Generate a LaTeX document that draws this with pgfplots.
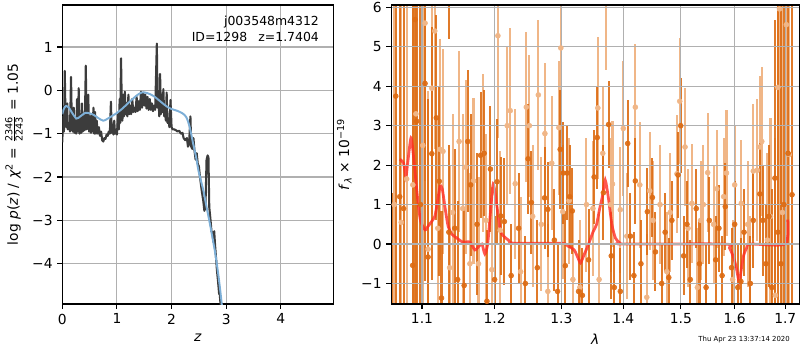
\documentclass[border=0pt]{standalone}
\usepackage{pgfplots}
\usepackage{pgfplotstable}
\pgfplotsset{compat=1.18}
\usepackage{fontspec}
\setmainfont{DejaVu Sans}[ItalicFont={DejaVu Sans Oblique},BoldFont={DejaVu Sans Bold}]
\definecolor{dkline}{RGB}{60,60,60}
\definecolor{bluel}{RGB}{125,175,215}
\definecolor{dor}{RGB}{221,107,18}
\definecolor{lor}{RGB}{240,182,135}
\definecolor{gridc}{RGB}{176,176,176}
\definecolor{redl}{RGB}{255,45,35}
\pgfplotstableread{
l f e
1.064 1.0 9
1.073 0.55 9
1.080 1.65 8
1.088 1.5 8
1.092 3.3 7
1.101 2.5 5
1.104 5.6 4
1.108 -0.13 4
1.113 3.95 3.2
1.117 5.4 3.0
1.121 0.4 2.8
1.124 2.4 2.8
1.128 2.35 2.6
1.137 -0.6 2.6
1.141 0.8 2.5
1.150 2.6 2.3
1.155 0.9 2.4
1.159 1.95 2.2
1.165 -0.5 2.3
1.170 1.6 2.1
1.177 -0.5 2.2
1.184 2.3 2.0
1.188 0.6 2.2
1.196 -0.65 2.1
1.2047 5.28 2.6
1.208 0.35 2.0
1.2182 3.0 2.0
1.2226 3.38 2.1
1.230 1.53 1.9
1.238 -0.7 1.9
1.2464 3.47 1.9
1.251 3.0 1.8
1.256 0.7 1.8
1.2645 3.78 1.9
1.269 0.5 1.7
1.2745 2.8 1.8
1.279 -1.2 1.7
1.285 2.05 1.7
1.296 2.95 1.7
1.299 4.97 2.4
1.302 0.82 1.7
1.312 1.1 1.6
1.318 -0.9 1.7
1.329 -1.1 1.7
1.3396 1.0 1.7
1.350 0.9 1.7
1.358 3.45 1.8
1.360 -0.9 1.7
1.366 2.3 1.7
1.372 6.9 2.5
1.379 1.0 1.7
1.382 1.52 1.6
1.395 0.87 1.6
1.400 2.93 1.7
1.406 0.2 1.6
1.4204 3.47 1.6
1.428 1.5 1.6
1.440 -1.35 1.6
1.445 1.35 1.5
1.451 0.6 1.5
1.463 1.0 1.5
1.475 -0.7 1.5
1.481 0.8 1.5
1.493 1.78 1.5
1.498 3.62 1.6
1.5075 2.46 1.5
1.513 0.4 1.5
1.520 1.03 1.5
1.530 -1.1 1.5
1.536 0.6 1.5
1.541 1.0 1.5
1.549 1.81 1.5
1.560 0.5 1.5
1.566 1.4 1.5
1.579 1.2 1.5
1.5844 1.8 1.6
1.596 -0.9 1.5
1.600 1.5 1.5
1.6127 1.03 1.6
1.625 0.5 1.6
1.630 -1.0 1.7
1.636 1.85 1.7
1.644 1.87 1.8
1.649 2.46 1.8
1.6527 2.6 1.9
1.664 0.1 2.2
1.670 0.7 2.5
1.680 -1.3 4
1.685 3.97 5
1.6881 5.96 6
1.694 0.8 7
1.7021 5.56 8
1.708 2.27 8
}\lighttab
\pgfplotstableread{
l f e
1.061 -2.0 3.3
1.066 3.75 9
1.071 1.2 9
1.076 0.9 9
1.0878 -0.54 8
1.091 5.69 8
1.093 3.11 7
1.098 1.0 6
1.104 4.07 5
1.108 -0.33 4
1.113 2.29 3.2
1.119 3.2 2.6
1.123 1.59 2.4
1.126 -1.37 2.2
1.1365 7.0 1.8
1.136 0.3 2.2
1.144 0.4 2.0
1.148 -0.9 2.0
1.157 -1.05 2.0
1.162 2.6 1.8
1.166 1.5 1.8
1.175 0.5 1.8
1.180 2.25 1.6
1.185 2.3 1.6
1.189 -1.45 1.8
1.194 1.9 1.6
1.200 -0.9 1.6
1.2035 1.58 1.6
1.209 0.71 1.5
1.214 0.57 1.6
1.224 -0.8 1.3
1.235 0.4 1.4
1.245 -1.0 1.2
1.249 2.16 1.4
1.254 1.05 1.3
1.263 -0.6 1.2
1.274 1.17 1.3
1.279 0.88 1.2
1.289 0.1 1.3
1.294 -1.2 1.2
1.298 2.4 1.5
1.303 1.8 1.3
1.306 -0.55 1.4
1.309 1.8 1.2
1.313 1.2 1.3
1.317 0.84 1.1
1.327 -1.2 1.3
1.333 -1.3 1.2
1.343 -0.4 1.3
1.352 1.7 1.2
1.357 2.7 1.3
1.367 1.3 1.2
1.3756 3.03 1.1
1.380 -0.3 1.1
1.385 -1.1 1.1
1.395 -1.2 1.1
1.4074 2.55 1.1
1.412 0.2 1.1
1.418 -0.8 1.1
1.4204 1.6 1.1
1.430 -0.5 1.1
1.441 0.82 1.1
1.4497 1.18 1.0
1.455 -0.2 1.0
1.466 -1.0 1.0
1.472 0.3 1.0
1.4784 -0.85 1.0
1.484 0.6 1.0
1.495 1.75 1.1
1.4997 3.0 1.2
1.505 -0.3 1.0
1.511 0.5 1.1
1.517 -0.9 1.0
1.528 0.9 1.0
1.534 -0.5 1.1
1.546 -1.1 1.1
1.552 0.6 1.1
1.564 -0.4 1.1
1.570 0.4 1.1
1.576 -0.8 1.0
1.582 0.95 1.1
1.594 -0.6 1.0
1.600 0.5 1.1
1.606 -1.1 1.1
1.612 -0.95 1.1
1.618 0.3 1.1
1.630 -1.0 1.2
1.636 0.6 1.2
1.649 1.27 1.3
1.655 0.6 1.4
1.661 -0.5 1.5
1.667 0.7 1.8
1.673 -1.1 2.5
1.679 1.67 4
1.685 0.3 6
1.691 -0.5 8
1.697 1.0 8
1.7058 2.3 8
1.7138 1.25 8
}\darktab
\pgfplotsset{
  myaxis/.style={
    scale only axis, anchor=south west,
    tick align=outside, tick pos=left, major tick length=3.5pt,
    grid=major, grid style={gridc, line width=0.8pt},
    axis line style={line width=0.8pt},
    tick style={black, line width=0.8pt},
    tick label style={font=\fontsize{10}{12}\selectfont},
    label style={font=\fontsize{10}{12}\selectfont},
    clip=true,
  }
}
\begin{document}
\begin{tikzpicture}
% ---------------- left panel ----------------
\begin{axis}[myaxis,
  at={(0.623in,0.46in)}, width=2.71in, height=2.99in,
  xmin=0, xmax=4.96, ymin=-4.93, ymax=1.97,
  xtick={0,1,2,3,4}, xticklabels={0,1,2,3,4},
  ytick={-4,-3,-2,-1,0,1}, yticklabels={−4,−3,−2,−1,0,1},
  xlabel={\textit{z}},
  ylabel={log \textit{p}(\textit{z}) / \textit{χ}\textsuperscript{2} = $\frac{\mbox{\fontsize{7}{7}\selectfont 2346}}{\mbox{\fontsize{7}{7}\selectfont 2243}}$ = 1.05},
]
\addplot[dkline, line width=1.5pt, line join=round] coordinates {
(0.00,-1.20) (0.01,-0.75) (0.02,-0.60) (0.03,-0.95) (0.045,0.45) (0.06,-0.70) (0.075,-0.85) (0.09,-0.30) (0.10,-0.90) (0.12,-0.75) (0.14,-0.95) (0.16,0.31) (0.175,-0.85) (0.19,-0.95) (0.21,-0.40) (0.22,-0.98) (0.24,-0.70) (0.255,-1.00) (0.27,-0.20) (0.285,-0.95) (0.30,0.05) (0.315,-1.00) (0.33,-0.55) (0.345,-0.98) (0.36,-0.30) (0.375,-0.95) (0.39,-0.60) (0.41,-0.92) (0.43,0.57) (0.445,-0.90) (0.46,-0.80) (0.475,-0.10) (0.49,-0.95) (0.51,-0.60) (0.525,-0.98) (0.54,-0.55) (0.555,-0.95) (0.57,-0.40) (0.585,-1.00) (0.60,-0.50) (0.615,-1.00) (0.63,-0.70) (0.65,-1.00) (0.67,-0.85) (0.69,-1.05) (0.71,-0.95) (0.73,-1.15) (0.75,-1.18) (0.77,-1.10) (0.79,-1.12) (0.81,-1.02) (0.83,-1.05) (0.85,-0.95) (0.87,-1.00) (0.89,-0.26) (0.905,-0.98) (0.92,-0.80) (0.935,-1.02) (0.95,-0.70) (0.965,-1.00) (0.98,-0.95) (1.00,-1.02) (1.02,-0.55) (1.035,-0.90) (1.05,-0.20) (1.06,-0.75) (1.075,0.74) (1.09,-0.40) (1.10,-0.70) (1.115,-0.10) (1.13,-0.60) (1.145,-0.03) (1.16,-0.55) (1.175,-0.30) (1.19,-0.60) (1.21,-0.10) (1.225,-0.55) (1.24,-0.35) (1.26,-0.55) (1.28,-0.20) (1.30,-0.50) (1.32,-0.40) (1.34,-0.50) (1.36,-0.15) (1.38,-0.48) (1.40,-0.25) (1.42,-0.45) (1.44,-0.03) (1.46,-0.40) (1.48,-0.05) (1.50,-0.35) (1.52,-0.10) (1.54,-0.42) (1.56,-0.15) (1.58,-0.45) (1.60,-0.20) (1.62,-0.45) (1.64,-0.30) (1.66,-0.48) (1.68,-0.35) (1.70,-0.45) (1.715,0.30) (1.73,1.08) (1.745,-0.40) (1.76,-0.20) (1.775,-0.60) (1.79,0.38) (1.805,-0.55) (1.82,-0.10) (1.835,-0.50) (1.85,0.03) (1.865,-0.60) (1.88,-0.40) (1.895,-0.70) (1.91,-0.05) (1.925,-0.75) (1.94,-0.65) (1.96,-0.85) (1.98,-0.22) (2.00,-0.85) (2.02,-0.90) (2.05,-0.90) (2.08,-0.92) (2.11,-0.95) (2.14,-0.93) (2.17,-1.00) (2.20,-0.98) (2.22,-1.10) (2.25,-1.15) (2.28,-1.10) (2.30,-1.30) (2.32,-1.25) (2.345,-0.60) (2.36,-1.30) (2.38,-1.35) (2.40,-1.10) (2.42,-1.40) (2.44,-1.60) (2.46,-1.45) (2.48,-1.70) (2.50,-1.75) (2.52,-2.00) (2.55,-2.30) (2.58,-2.55) (2.60,-2.78) (2.62,-2.70) (2.64,-1.60) (2.66,-1.50) (2.675,-1.55) (2.69,-2.70) (2.71,-2.95) (2.73,-3.25) (2.75,-3.30) (2.765,-3.50) (2.78,-3.25) (2.795,-3.55) (2.81,-3.80) (2.83,-4.15) (2.85,-4.40) (2.87,-4.70) (2.88,-4.65) (2.89,-4.85) (2.90,-4.95)
};
\addplot[bluel, line width=1.4pt, smooth] coordinates {
(0,-0.55) (0.03,-0.42) (0.07,-0.36) (0.12,-0.40) (0.18,-0.52) (0.26,-0.65) (0.33,-0.60) (0.42,-0.52) (0.50,-0.53) (0.58,-0.57) (0.66,-0.64) (0.75,-0.70) (0.82,-0.66) (0.90,-0.60) (1.00,-0.52) (1.10,-0.42) (1.20,-0.30) (1.27,-0.22) (1.35,-0.13) (1.45,-0.05) (1.55,-0.06) (1.67,-0.13) (1.80,-0.26) (1.91,-0.37) (2.00,-0.43) (2.10,-0.47) (2.20,-0.53) (2.27,-0.62) (2.33,-0.84) (2.39,-1.20) (2.45,-1.55) (2.49,-1.84) (2.54,-2.10) (2.58,-2.30) (2.64,-2.69) (2.70,-3.07) (2.79,-3.69) (2.85,-4.20) (2.89,-4.61) (2.92,-4.95)
};
\node[anchor=north east, align=right, inner sep=0pt, font=\fontsize{9}{12}\selectfont] at (rel axis cs:0.948,0.965) {j003548m4312\\ID=1298\hspace{0.9em}z=1.7404};
\end{axis}
% ---------------- right panel ----------------
\begin{axis}[myaxis, axis on top,
  at={(3.913in,0.46in)}, width=4.08in, height=2.99in,
  xmode=log, xmin=1.0603, xmax=1.7288, ymin=-1.52, ymax=6.06,
  xtick={1.1,1.2,1.3,1.4,1.5,1.6,1.7}, xticklabels={1.1,1.2,1.3,1.4,1.5,1.6,1.7},
  minor xtick={},
  ytick={-1,0,1,2,3,4,5,6}, yticklabels={−1,0,1,2,3,4,5,6},
  xlabel={\textit{λ}},
  ylabel={\textit{f}\textsubscript{\textit{λ}} × 10\textsuperscript{−19}},
]
\addplot[only marks, mark=*, mark size=1.8pt, color=lor,
  error bars/.cd, y dir=both, y explicit, error mark=none,
  error bar style={line width=1.5pt, color=lor}]
  table[x=l, y=f, y error=e] {\lighttab};
\addplot[only marks, mark=*, mark size=1.8pt, color=dor, opacity=0.9,
  error bars/.cd, y dir=both, y explicit, error mark=none,
  error bar style={line width=1.5pt, color=dor}]
  table[x=l, y=f, y error=e] {\darktab};
\addplot[black, line width=1.5pt, dash pattern=on 1.5pt off 2.2pt] coordinates {(1.0603,0) (1.7288,0)};
\addplot[redl, line width=2pt, opacity=0.8, smooth, tension=0.4] coordinates {
(1.071,2.15) (1.076,2.05) (1.079,1.70) (1.081,2.00) (1.0856,2.69) (1.089,2.2) (1.094,1.2) (1.098,0.6) (1.104,0.36) (1.108,0.45) (1.112,0.55) (1.117,0.70) (1.120,1.0) (1.124,1.46) (1.127,1.40) (1.131,0.90) (1.135,0.45) (1.140,0.25) (1.147,0.15) (1.155,0.05) (1.165,0.05) (1.172,-0.15) (1.178,-0.05) (1.182,0.0) (1.186,-0.25) (1.190,0.0) (1.194,0.8) (1.198,1.52) (1.203,1.0) (1.208,0.35) (1.213,0.2) (1.220,0.1) (1.228,0.02) (1.300,0.02) (1.310,-0.05) (1.320,-0.15) (1.326,-0.35) (1.330,-0.48) (1.335,-0.3) (1.343,0.0) (1.350,0.3) (1.356,0.5) (1.361,0.9) (1.366,1.25) (1.370,1.62) (1.375,1.2) (1.381,0.5) (1.387,0.15) (1.394,0.03) (1.400,0.0) (1.580,0.0) (1.590,-0.1) (1.598,-0.35) (1.603,-0.6) (1.6086,-0.97) (1.612,-0.7) (1.617,-0.3) (1.623,-0.1) (1.630,0.0) (1.700,0.0) (1.705,0.62)
};
\end{axis}
\node[anchor=east, inner sep=0pt, font=\fontsize{5}{6}\selectfont] at (7.9in,0.1in) {Thu Apr 23 13:37:14 2020};
\pgfresetboundingbox
\path (0,0) rectangle (8in,3.5in);
\end{tikzpicture}
\end{document}
